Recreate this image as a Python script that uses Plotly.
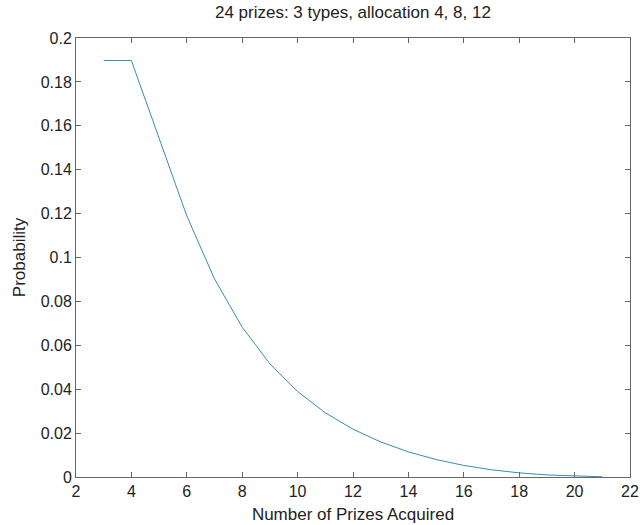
import plotly.graph_objects as go

prizes = [3, 4, 5, 6, 7, 8, 9, 10, 11, 12, 13, 14, 15, 16, 17, 18, 19, 20, 21]
probability = [0.189725, 0.189722, 0.154338, 0.118954, 0.090251, 0.068234, 0.051568,
               0.038922, 0.029248, 0.021781, 0.015977, 0.011456, 0.007954, 0.005281,
               0.003295, 0.001882, 0.000941, 0.000376, 0.000094]
x_ticks = [2, 4, 6, 8, 10, 12, 14, 16, 18, 20, 22]
y_ticks = [0, 0.02, 0.04, 0.06, 0.08, 0.1, 0.12, 0.14, 0.16, 0.18, 0.2]
y_tick_text = ["0", "0.02", "0.04", "0.06", "0.08", "0.1", "0.12", "0.14", "0.16", "0.18", "0.2"]

font = "Liberation Sans, Arial, sans-serif"
fig = go.Figure(go.Scatter(x=prizes, y=probability, mode="lines",
                           line=dict(color="#3a8bb5", width=1)))

axis_common = dict(showline=True, mirror="ticks", linecolor="#666", linewidth=1,
                   ticks="inside", ticklen=5, tickcolor="#666", showgrid=False,
                   zeroline=False, tickfont=dict(size=16, color="#222", family=font))
fig.update_xaxes(range=[2, 22], tickvals=x_ticks,
                 title=dict(text="Number of Prizes Acquired", font=dict(size=17, color="#222", family=font), standoff=8),
                 **axis_common)
fig.update_yaxes(range=[0, 0.2], tickvals=y_ticks, ticktext=y_tick_text,
                 title=dict(text="Probability", font=dict(size=17, color="#222", family=font), standoff=10),
                 **axis_common)
fig.update_layout(
    width=644, height=525, template="plotly_white",
    plot_bgcolor="white", paper_bgcolor="white",
    margin=dict(l=76, r=14, t=38, b=48, autoexpand=False),
    showlegend=False,
    title=dict(text="24 prizes: 3 types, allocation 4, 8, 12", x=0.548, xanchor="center",
               y=0.977, yanchor="middle", font=dict(size=17, color="#222", family=font)),
)
fig.write_html("out.html", config={"displayModeBar": False},
               post_script="document.body.style.margin='0';")
